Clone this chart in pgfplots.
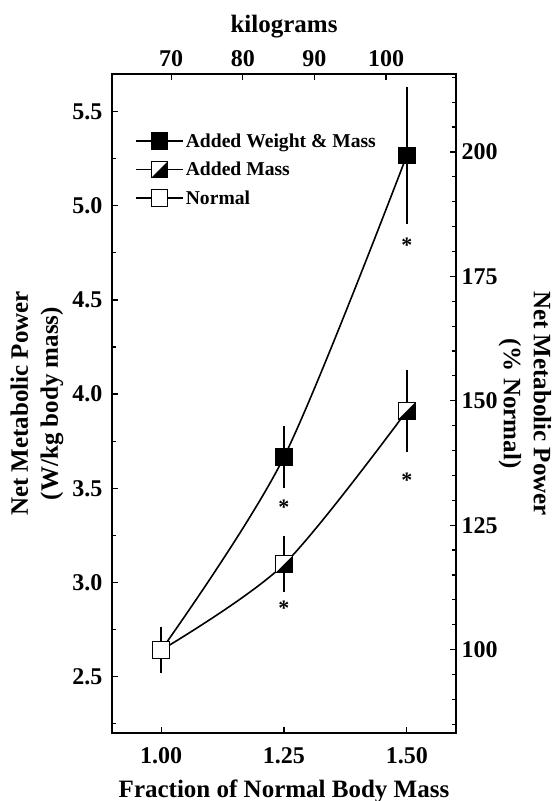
\documentclass[border=0pt]{standalone}
\usepackage{fontspec}
\setmainfont{Liberation Serif}
\usepackage{pgfplots}
\pgfplotsset{compat=1.18}

\pgfdeclareplotmark{halfsq}{%
  \pgfpathrectangle{\pgfpoint{-\pgfplotmarksize}{-\pgfplotmarksize}}{\pgfpoint{2\pgfplotmarksize}{2\pgfplotmarksize}}%
  \pgfsetfillcolor{white}%
  \pgfusepathqfill
  \pgfpathmoveto{\pgfpoint{-\pgfplotmarksize}{-\pgfplotmarksize}}%
  \pgfpathlineto{\pgfpoint{\pgfplotmarksize}{-\pgfplotmarksize}}%
  \pgfpathlineto{\pgfpoint{\pgfplotmarksize}{\pgfplotmarksize}}%
  \pgfpathclose
  \pgfsetfillcolor{black}%
  \pgfusepathqfill
  \pgfpathrectangle{\pgfpoint{-\pgfplotmarksize}{-\pgfplotmarksize}}{\pgfpoint{2\pgfplotmarksize}{2\pgfplotmarksize}}%
  \pgfusepathqstroke
}

\pgfplotsset{
  common/.style={
    width=344pt, height=659pt, scale only axis,
    at={(0pt,0pt)}, anchor=south west,
    xmin=0.9, xmax=1.6, ymin=2.2, ymax=5.7,
    tick align=inside,
    major tick length=6pt, minor tick length=4pt,
    every tick/.style={black, line width=1.2pt},
    axis line style={black, line width=1.6pt},
    tick label style={font=\fontsize{24}{24}\selectfont\bfseries, black},
    label style={font=\fontsize{25}{30}\selectfont\bfseries, black},
  }
}

\begin{document}
\begin{tikzpicture}
\begin{axis}[common,
  tick pos=left,
  xtick={1,1.25,1.5}, xticklabels={1.00,1.25,1.50},
  xticklabel style={yshift=-11pt},
  ytick={2.5,3,3.5,4,4.5,5,5.5},
  yticklabels={2.5,3.0,3.5,4.0,4.5,5.0,5.5},
  yticklabel style={xshift=-6pt},
  minor ytick={2.25,2.75,3.25,3.75,4.25,4.75,5.25},
  xlabel={Fraction of Normal Body Mass},
  xlabel style={at={(axis description cs:0.5,0)}, anchor=center, yshift=-58pt},
  ylabel={Net Metabolic Power\\(W/kg body mass)},
  ylabel style={align=center, at={(axis description cs:0,0.5)}, anchor=center, yshift=75pt},
  legend style={draw=none, fill=none, at={(0.067,0.913)}, anchor=north west,
    font=\fontsize{19.6}{22}\selectfont\bfseries, row sep=9.5pt, inner sep=0pt},
  legend cell align=left,
  legend image code/.code={\draw[mark indices={2}, line width=1.6pt] plot coordinates {(0pt,0pt) (23.5pt,0pt) (47pt,0pt)};},
]
% Added Weight & Mass
\addplot[black, line width=1.6pt, smooth, mark=square*, mark indices={2,3},
  mark options={solid, fill=black, line width=1pt, mark size=8.3pt},
  error bars/.cd, y dir=both, y explicit,
  error bar style={line width=1.6pt, black},
  error mark options={line width=1.6pt, mark size=3.5pt, black}]
coordinates {(1.00,2.64) +- (0,0) (1.25,3.666) +- (0,0.147) (1.50,5.268) +- (0,0.345)};
% Added Mass
\addplot[black, line width=1.6pt, smooth, mark=halfsq, mark indices={2,3},
  mark options={solid, line width=1pt, mark size=8.3pt},
  error bars/.cd, y dir=both, y explicit,
  error bar style={line width=1.6pt, black},
  error mark options={line width=1.6pt, mark size=3.5pt, black}]
coordinates {(1.00,2.64) +- (0,0) (1.25,3.096) +- (0,0.13) (1.50,3.911) +- (0,0.2)};
% Normal
\addplot[black, line width=1.6pt, mark=square*,
  mark options={solid, fill=white, line width=1pt, mark size=8.3pt},
  error bars/.cd, y dir=both, y explicit,
  error bar style={line width=1.6pt, black},
  error mark options={line width=1.6pt, mark size=3.5pt, black}]
coordinates {(1.00,2.641) +- (0,0.104)};
% significance asterisks
\addplot[only marks, mark=text, text mark={\fontsize{22}{22}\selectfont\bfseries *}, forget plot]
coordinates {(1.25,3.40) (1.25,2.86) (1.50,4.79) (1.50,3.54)};
\legend{Added Weight \& Mass, Added Mass, Normal}
\end{axis}

\begin{axis}[common,
  axis x line=none, axis y line*=right,
  ymin=83.24, ymax=215.66,
  ytick={100,125,150,175,200},
  yticklabels={100,125,150,175,200},
  yticklabel style={xshift=2pt},
  minor ytick={85,90,95,105,110,115,120,130,135,140,145,155,160,165,170,180,185,190,195,205,210,215},
  ylabel={Net Metabolic Power\\(\% Normal)},
  ylabel style={align=center, at={(axis description cs:1,0.5)}, rotate=180, anchor=center, yshift=69pt},
]
\end{axis}

\begin{axis}[common,
  axis y line=none, axis x line*=top,
  xmin=61.74, xmax=109.76,
  xtick={70,80,90,100},
  xticklabels={70,80,90,100},
  xticklabel style={yshift=4pt},
  xlabel={kilograms},
  xlabel style={at={(axis description cs:0.5,1)}, anchor=center, yshift=47pt},
]
\end{axis}
\pgfresetboundingbox
\path (-112pt,-68pt) rectangle (443pt,733pt);
\end{tikzpicture}
\end{document}
